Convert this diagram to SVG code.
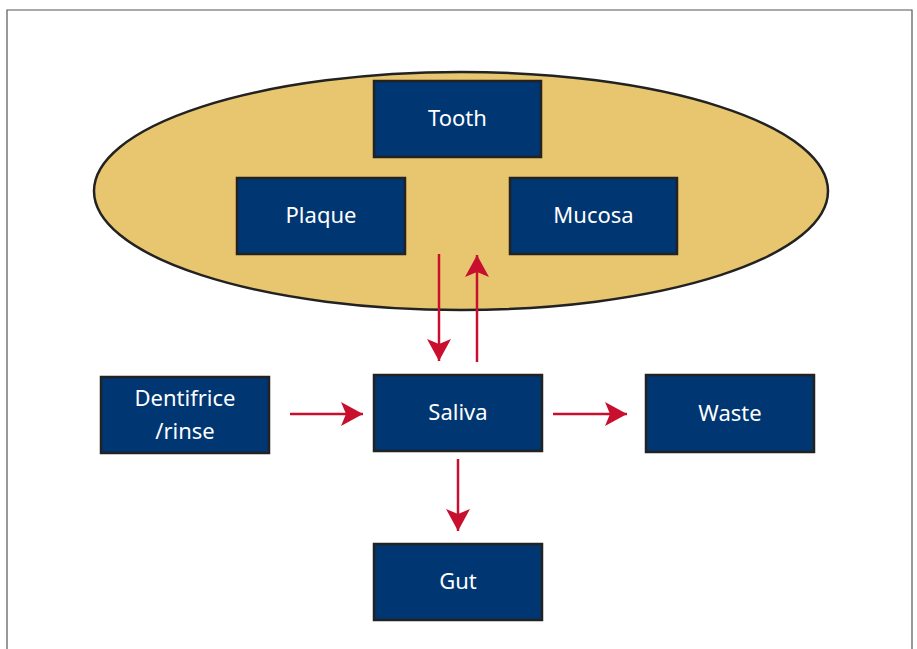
<svg xmlns="http://www.w3.org/2000/svg" width="917" height="649" viewBox="0 0 917 649">
<style>
.box{fill:#003672;stroke:#222;stroke-width:2.5}
.lbl{fill:#fff;font-family:"Noto Sans","Liberation Sans",sans-serif;font-size:22px;text-anchor:middle}
.conn{stroke:#c8102e;stroke-width:2.5;fill:none}
</style>
<defs>
<marker id="ah" viewBox="0 0 24 24" refX="22" refY="12" markerWidth="24" markerHeight="24" markerUnits="userSpaceOnUse" orient="auto">
<path d="M0,0 L22,12 L0,24 L5,12 Z" fill="#c8102e"/>
</marker>
</defs>
<rect width="917" height="649" fill="#fff"/>
<path d="M7,649 V10 H912 V649" fill="none" stroke="#555" stroke-width="1.2"/>
<g id="mouth"><ellipse cx="461" cy="191" rx="367" ry="119" fill="#e8c66f" stroke="#222" stroke-width="2.5"/></g>
<g id="tooth"><rect class="box" x="374" y="81" width="167" height="76"/><text class="lbl" x="457.5" y="126">Tooth</text></g>
<g id="plaque"><rect class="box" x="237" y="178" width="168" height="76"/><text class="lbl" x="321" y="223">Plaque</text></g>
<g id="mucosa"><rect class="box" x="510" y="178" width="167" height="76"/><text class="lbl" x="593.5" y="223">Mucosa</text></g>
<g id="dentifrice"><rect class="box" x="101" y="377" width="168" height="76"/><text class="lbl" x="185" y="406">Dentifrice</text><text class="lbl" x="185" y="439">/rinse</text></g>
<g id="saliva"><rect class="box" x="374" y="375" width="168" height="76"/><text class="lbl" x="458" y="420">Saliva</text></g>
<g id="waste"><rect class="box" x="646" y="375" width="168" height="77"/><text class="lbl" x="730" y="421">Waste</text></g>
<g id="gut"><rect class="box" x="374" y="544" width="168" height="76"/><text class="lbl" x="458" y="589">Gut</text></g>
<g id="connectors">
<line class="conn" x1="439" y1="254" x2="439" y2="361" marker-end="url(#ah)"/>
<line class="conn" x1="477" y1="362" x2="477" y2="255" marker-end="url(#ah)"/>
<line class="conn" x1="290" y1="414" x2="363" y2="414" marker-end="url(#ah)"/>
<line class="conn" x1="553" y1="414" x2="627" y2="414" marker-end="url(#ah)"/>
<line class="conn" x1="458" y1="459" x2="458" y2="531" marker-end="url(#ah)"/>
</g>
</svg>
